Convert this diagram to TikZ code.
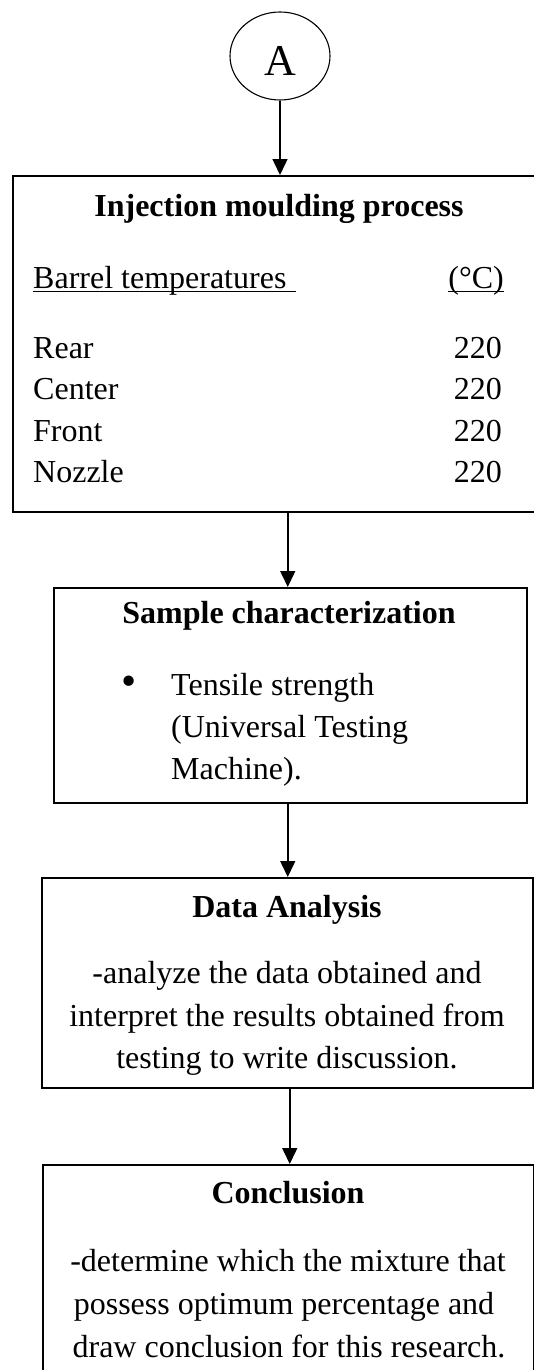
\documentclass[tikz,border=0pt]{standalone}
\usepackage{fontspec}
\setmainfont{Liberation Serif}
\usetikzlibrary{shapes.geometric,arrows.meta}
\begin{document}
\begin{tikzpicture}[x=1pt,y=-1pt,
  box/.style={draw,line width=1.5pt,rectangle,anchor=north west,inner sep=0pt},
  txt/.style={inner sep=0pt,font=\fontsize{32}{43}\selectfont},
  ttl/.style={inner sep=0pt,font=\fontsize{32}{43}\selectfont\bfseries,anchor=base},
  lft/.style={txt,anchor=base west},
  rgt/.style={txt,anchor=base east},
  ctr/.style={txt,anchor=base},
  uline/.style={line width=1.2pt},
  arr/.style={line width=1.5pt,-{Triangle[width=15pt,length=16pt]}}]
\useasboundingbox (0,0) rectangle (534,1370);

% start connector
\node[draw,ellipse,line width=1.1pt,minimum width=100pt,minimum height=88pt,inner sep=0pt,
  font=\fontsize{44}{44}\selectfont] (A) at (280,56) {\smash{\raisebox{-20pt}{A}}};

% boxes
\node[box,minimum width=534pt,minimum height=336pt] (b1) at (12,175) {};
\node[box,minimum width=473pt,minimum height=215pt] (b2) at (53,587) {};
\node[box,minimum width=491pt,minimum height=210pt] (b3) at (41,877) {};
\node[box,minimum width=491pt,minimum height=260pt] (b4) at (42,1164) {};

% box 1 texts
\node[ttl] (t1) at (279,216) {Injection moulding process};
\node[lft] (bt) at (33,288) {Barrel temperatures};
\node[rgt] (bu) at (504,288) {(°C)};
\draw[uline] ([yshift=-3.5pt]bt.base west) -- ([xshift=9pt,yshift=-3.5pt]bt.base east);
\draw[uline] ([yshift=-3.5pt]bu.base west) -- ([yshift=-3.5pt]bu.base east);
\node[lft] (r1) at (33,358) {Rear};
\node[lft] (r2) at (33,399.5) {Center};
\node[lft] (r3) at (33,441) {Front};
\node[lft] (r4) at (33,482) {Nozzle};
\node[rgt] (v1) at (502,358) {220};
\node[rgt] (v2) at (502,399.5) {220};
\node[rgt] (v3) at (502,441) {220};
\node[rgt] (v4) at (502,482) {220};

% box 2 texts
\node[ttl] (t2) at (289,623) {Sample characterization};
\node[ctr] (bl) at (129,695) {\scalebox{1.35}{\textbullet}};
\node[lft] (s1) at (171,695) {Tensile strength};
\node[lft] (s2) at (171,737) {(Universal Testing};
\node[lft] (s3) at (171,779) {Machine).};

% box 3 texts
\node[ttl] (t3) at (287,917) {Data Analysis};
\node[ctr] (d1) at (287,983) {-analyze the data obtained and};
\node[ctr] (d2) at (287,1026) {interpret the results obtained from};
\node[ctr] (d3) at (287,1068) {testing to write discussion.};

% box 4 texts
\node[ttl] (t4) at (288,1203) {Conclusion};
\node[ctr] (c1) at (288,1271) {-determine which the mixture that};
\node[ctr] (c2) at (284,1314) {possess optimum percentage and};
\node[ctr] (c3) at (289,1357) {draw conclusion for this research.};

% connectors
\draw[arr] (A.south) -- (A.south |- b1.north);
\draw[arr] ([xshift=8pt]b1.south) -- ([xshift=-2.5pt]b2.north);
\draw[arr] ([xshift=-2.5pt]b2.south) -- ([xshift=0.5pt]b3.north);
\draw[arr] ([xshift=2.5pt]b3.south) -- ([xshift=1.5pt]b4.north);
\end{tikzpicture}
\end{document}
